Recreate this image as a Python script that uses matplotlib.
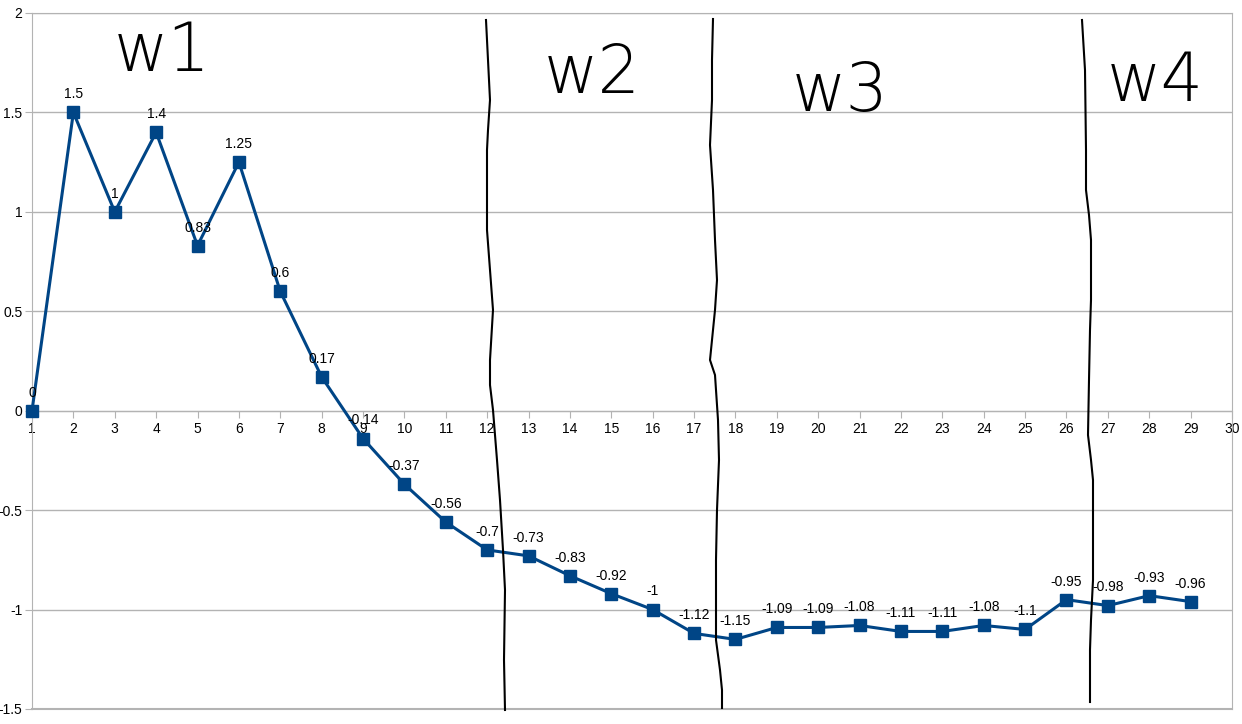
import matplotlib
matplotlib.use("Agg")
import matplotlib.pyplot as plt
from matplotlib.lines import Line2D
from matplotlib.ticker import MultipleLocator, FuncFormatter

plt.rcParams['font.family'] = ['Liberation Sans', 'DejaVu Sans']

# data
weeks = list(range(1, 30))
values = [0, 1.5, 1, 1.4, 0.83, 1.25, 0.6, 0.17, -0.14, -0.37, -0.56, -0.7,
          -0.73, -0.83, -0.92, -1, -1.12, -1.15, -1.09, -1.09, -1.08, -1.11,
          -1.11, -1.08, -1.1, -0.95, -0.98, -0.93, -0.96]
x_ticks = list(range(1, 31))
y_ticks = [-1.5, -1, -0.5, 0, 0.5, 1, 1.5, 2]

# hand drawn separators and notes (figure pixels, y measured from top)
sep_lines = [
    [(486, 20), (488, 60), (490, 100), (488, 130), (487, 150), (487, 230), (490, 270),
     (493, 310), (490, 360), (490, 385), (493, 410), (497, 460), (500, 500),
     (503, 550), (505, 590), (504, 660), (505, 710)],
    [(713, 19), (712, 60), (712, 100), (710, 145), (713, 190), (715, 240), (717, 280),
     (715, 310), (713, 330), (710, 360), (715, 375), (718, 420), (719, 460),
     (717, 510), (716, 560), (716, 640), (720, 670), (722, 690), (722, 708)],
    [(1082, 20), (1085, 70), (1086, 150), (1086, 190), (1089, 215), (1091, 240),
     (1091, 300), (1090, 330), (1089, 380), (1088, 435), (1091, 460), (1093, 480),
     (1093, 580), (1091, 620), (1090, 650), (1090, 702)],
]
notes = ["w1", "w2", "w3", "w4"]
note_pos = [(162, 52), (592, 74), (840, 92), (1155, 82)]

W, H = 1242, 724
fig = plt.figure(figsize=(W / 100, H / 100), dpi=100)
ax = fig.add_axes([32 / W, 15 / H, 1200 / W, 696 / H])

ax.set_xlim(1, 30)
ax.set_ylim(-1.5, 2)
ax.set_yticks(y_ticks)
ax.set_xticks(x_ticks)
ax.yaxis.set_major_formatter(FuncFormatter(lambda v, p: '{:g}'.format(v)))
ax.grid(axis='y', color='#b3b3b3', linewidth=1)
ax.set_axisbelow(True)
for s in ax.spines.values():
    s.set_color('#b3b3b3')
ax.spines['bottom'].set_position(('data', 0))
ax.plot([1, 30], [-1.5, -1.5], color='#b3b3b3', linewidth=1.5, clip_on=False)
ax.tick_params(axis='both', colors='#b3b3b3', labelcolor='black', labelsize=10, length=5)
ax.tick_params(axis='x', pad=3)
ax.tick_params(axis='y', pad=2)

ax.plot(weeks, values, color='#004586', linewidth=2.2, marker='s', markersize=8,
        zorder=3, clip_on=False)
for xv, yv in zip(weeks, values):
    ax.annotate('{:g}'.format(yv), (xv, yv), xytext=(0, 8), textcoords='offset points',
                ha='center', va='bottom', fontsize=10, color='black', zorder=4)

for pts in sep_lines:
    xs = [p[0] / W for p in pts]
    ys = [1 - p[1] / H for p in pts]
    fig.add_artist(Line2D(xs, ys, color='black', linewidth=1.5, transform=fig.transFigure))

for txt, (px, py) in zip(notes, note_pos):
    fig.text(px / W, 1 - py / H, txt, ha='center', va='center', fontsize=48,
             color='black', family=['DejaVu Sans'], fontweight='light')

fig.savefig('out.png', dpi=100)
